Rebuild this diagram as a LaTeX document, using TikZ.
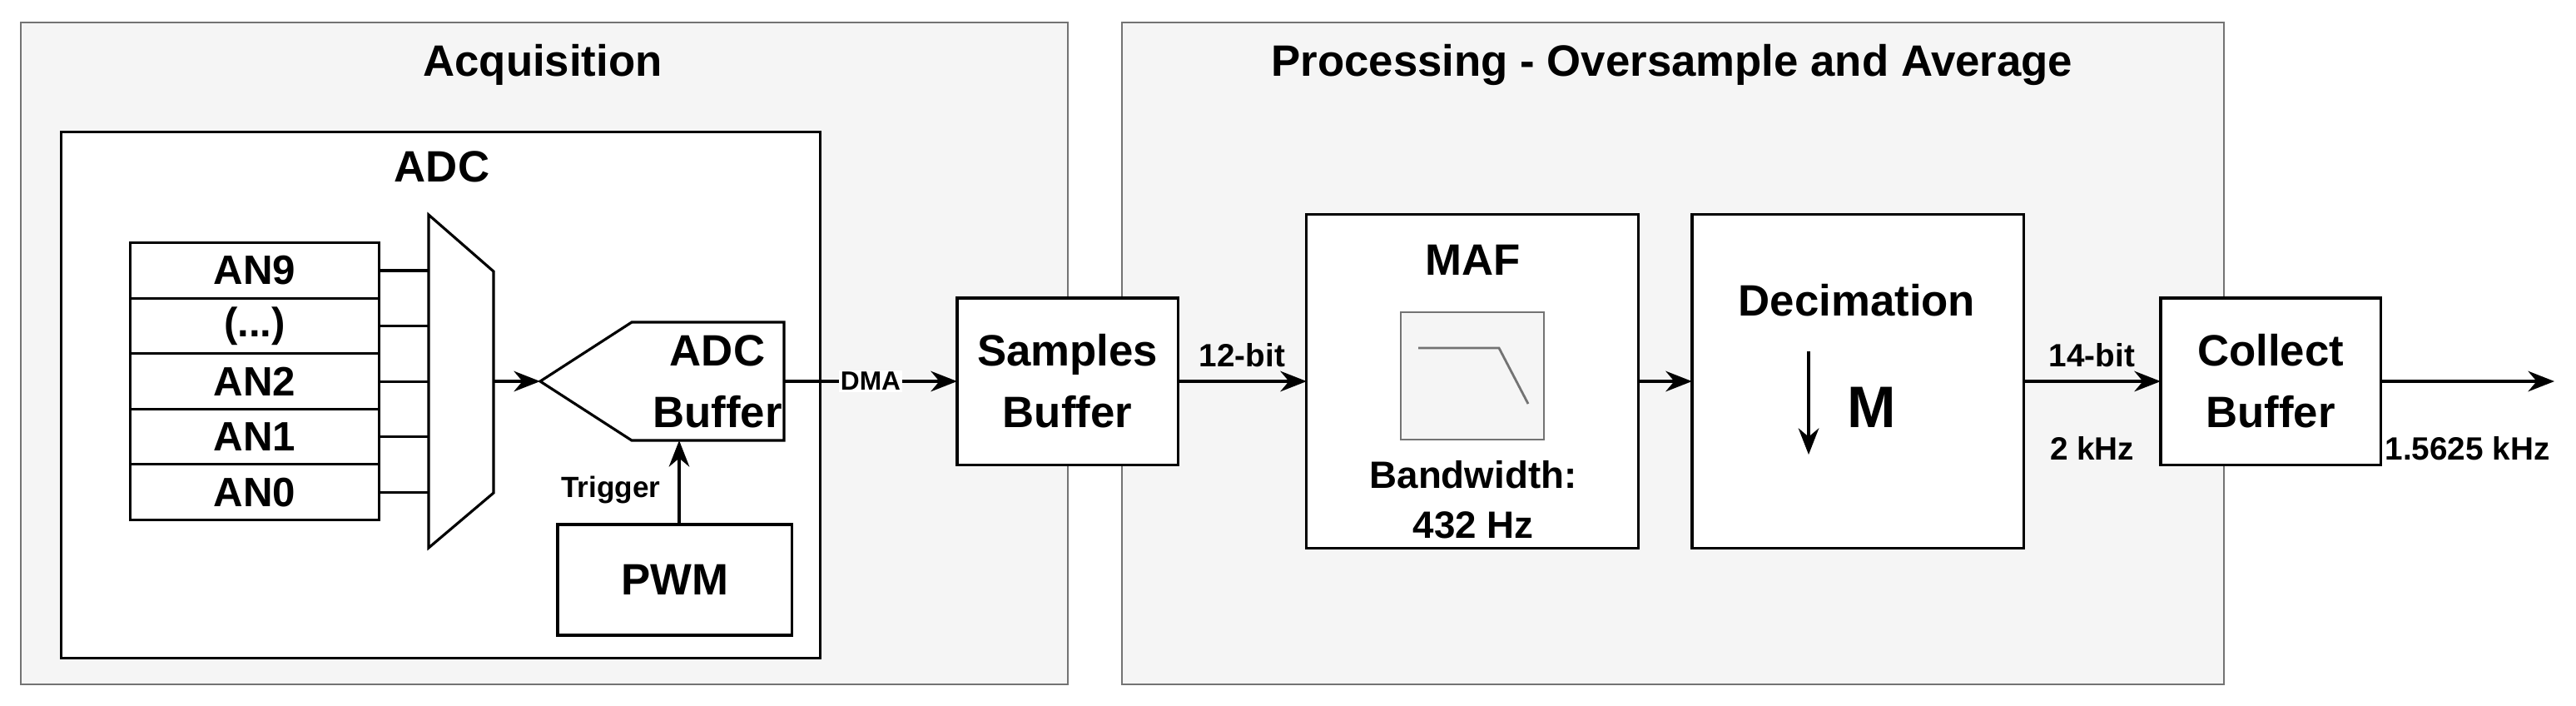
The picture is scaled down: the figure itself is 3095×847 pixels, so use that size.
\documentclass[tikz,border=0pt]{standalone}
\usepackage{fontspec}
\setmainfont{Liberation Sans}
\usetikzlibrary{positioning,arrows.meta,calc}

\begin{document}
\begin{tikzpicture}[
        x=0.01cm, y=-0.01cm,
        line width=0.9pt,
        outer sep=0pt,
        panel/.style={draw=black!55, fill=black!4, line width=0.8pt},
        box/.style={draw=black, fill=white, align=center, font=\bfseries\fontsize{15}{18}\selectfont, inner sep=0pt},
        cell/.style={draw=black, fill=white, minimum width=2.98cm, minimum height=0.665cm, font=\bfseries\fontsize{14}{16}\selectfont, inner sep=0pt},
        lbl/.style={font=\bfseries\fontsize{11}{13}\selectfont, inner sep=1pt},
        arr/.style={-{Stealth[length=9pt,width=7pt]}}
    ]
    \useasboundingbox (0,0) rectangle (3095,847);

    % panels
    \draw[panel] (25,27) rectangle (1283,822);
    \draw[panel] (1348,27) rectangle (2672,822);
    \node[font=\bfseries\fontsize{15}{18}\selectfont] (acqtitle) at (652,78) {Acquisition};
    \node[font=\bfseries\fontsize{15}{18}\selectfont] (proctitle) at (2009,78) {Processing - Oversample and Average};

    % ADC block
    \node[box, minimum width=9.11cm, minimum height=6.31cm] (adc) at (529.5,474.5) {};
    \node[font=\bfseries\fontsize{15}{18}\selectfont] (adctitle) at (531,200) {ADC};

    % input channels
    \node[cell] (an9) at (306,325) {AN9};
    \node[cell, below=0pt of an9] (dots) {(...)};
    \node[cell, below=0pt of dots] (an2) {AN2};
    \node[cell, below=0pt of an2] (an1) {AN1};
    \node[cell, below=0pt of an1] (an0) {AN0};

    % multiplexer
    \coordinate (mtl) at (515,258);
    \coordinate (mbl) at (515,658);
    \draw[fill=white] (mtl) -- (593,326) -- (593,592) -- (mbl) -- cycle;
    \coordinate (mout) at (593,458);
    \foreach \c in {an9,dots,an2,an1,an0}
        \draw (\c.east) -- (\c.east -| mtl);

    % ADC buffer
    \coordinate (tip) at (649,458);
    \draw[fill=white] (tip) -- (759,387) -- (942,387) -- (942,529) -- (759,529) -- cycle;
    \node[box, draw=none, fill=none] (adcbuf) at (862,458) {ADC\\[3pt]Buffer};
    \coordinate (bufout) at (942,458);
    \coordinate (bufin) at (816,529);
    \draw[arr] (mout) -- (tip);

    % PWM
    \node[box, minimum width=2.81cm, minimum height=1.33cm] (pwm) at (810.5,696.5) {PWM};
    \draw[arr] (pwm.north -| bufin) -- (bufin);
    \node[lbl, font=\bfseries\fontsize{10}{12}\selectfont] (trig) at (734,588) {Trigger};

    % samples buffer
    \node[box, minimum width=2.65cm, minimum height=2cm] (samples) at (1282.5,458) {Samples\\[3pt]Buffer};
    \draw[arr] (bufout) -- node[lbl, fill=white, font=\bfseries\fontsize{9}{11}\selectfont, inner sep=0.5pt] (dma) {DMA} (samples.west);

    % MAF
    \node[box, minimum width=3.98cm, minimum height=4cm] (maf) at (1769,458) {};
    \node[font=\bfseries\fontsize{15}{18}\selectfont] (maftitle) at (1770,312) {MAF};
    \draw[draw=black!55, fill=black!4, line width=0.8pt] (1683,375) rectangle (1855,528);
    \draw[draw=black!55, line width=0.8pt] (1704,418) -- (1801,418) -- (1836,485);
    \node[align=center, font=\bfseries\fontsize{13}{17}\selectfont] (bw) at (1770,600) {Bandwidth:\\432 Hz};
    \draw[arr] (samples.east) -- node[lbl, above=4pt] (bits12) {12-bit} (maf.west);

    % decimation
    \node[box, minimum width=3.98cm, minimum height=4cm] (dec) at (2232,458) {};
    \node[font=\bfseries\fontsize{15}{18}\selectfont] (dectitle) at (2231,361) {Decimation};
    \coordinate (dtop) at (2173,422);
    \coordinate (dbot) at (2173,546);
    \draw[arr] (dtop) -- (dbot);
    \node[font=\bfseries\fontsize{20}{24}\selectfont] (mfac) at (2249,489) {M};
    \draw[arr] (maf.east) -- (dec.west);

    % collect buffer
    \node[box, minimum width=2.64cm, minimum height=2cm] (collect) at (2728,458) {Collect\\[3pt]Buffer};
    \draw[arr] (dec.east) -- node[lbl, above=4pt] (bits14) {14-bit} node[lbl, below=18pt] (rate2) {2 kHz} (collect.west);
    \coordinate (out) at (3069,458);
    \draw[arr] (collect.east) -- node[lbl, below=18pt] (rateout) {1.5625 kHz} (out);
\end{tikzpicture}
\end{document}
